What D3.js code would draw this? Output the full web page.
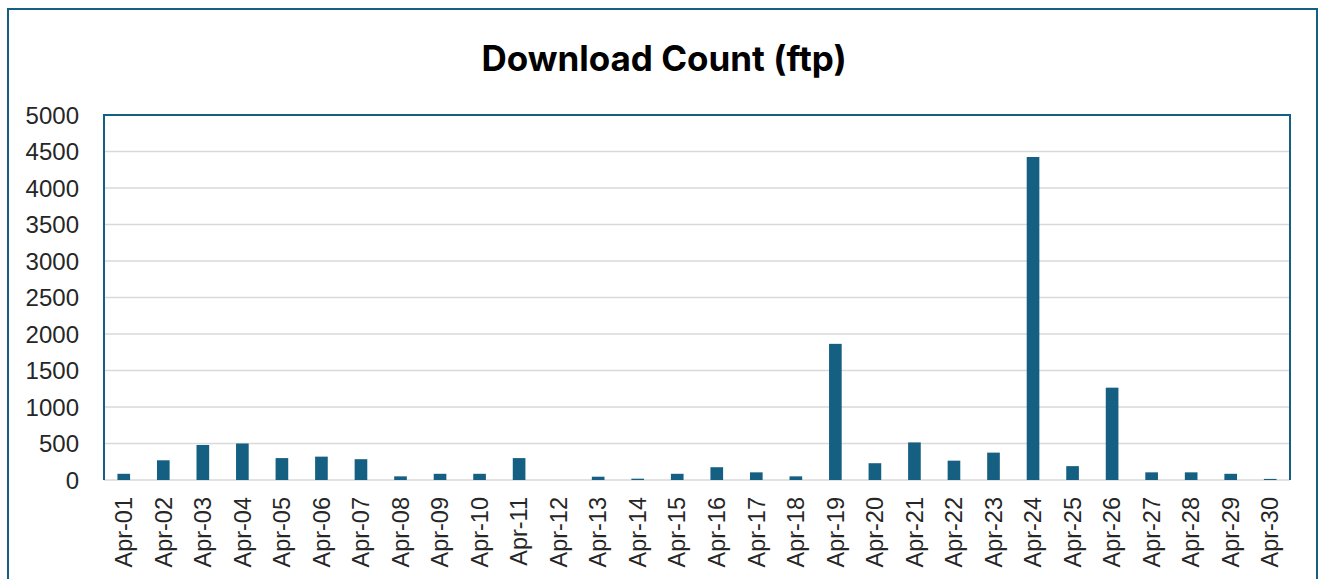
<!DOCTYPE html>
<html>
<head>
<meta charset="utf-8">
<script src="https://cdn.jsdelivr.net/npm/d3@7"></script>
<style>
    body { margin: 0; background: #fff; }
    svg { display: block; }
    .tick text { font-family: 'Liberation Sans', Arial, sans-serif; fill: #262626; }
    .title { font-family: Inter, 'Open Sans', sans-serif; font-weight: 700; }
</style>
</head>
<body>
<script>
const W = 1321, H = 579;
const margin = { top: 115, right: 31, bottom: 99, left: 104 },
    width = W - margin.left - margin.right,
    height = 480 - margin.top;

const teal = '#156082';

const days = ['Apr-01', 'Apr-02', 'Apr-03', 'Apr-04', 'Apr-05', 'Apr-06', 'Apr-07', 'Apr-08', 'Apr-09', 'Apr-10',
    'Apr-11', 'Apr-12', 'Apr-13', 'Apr-14', 'Apr-15', 'Apr-16', 'Apr-17', 'Apr-18', 'Apr-19', 'Apr-20',
    'Apr-21', 'Apr-22', 'Apr-23', 'Apr-24', 'Apr-25', 'Apr-26', 'Apr-27', 'Apr-28', 'Apr-29', 'Apr-30'];
const downloads = [85, 270, 480, 500, 300, 320, 285, 50, 85, 85,
    300, 0, 45, 18, 85, 175, 105, 50, 1865, 230,
    515, 265, 375, 4425, 190, 1265, 105, 105, 85, 15];
const yTicks = [0, 500, 1000, 1500, 2000, 2500, 3000, 3500, 4000, 4500, 5000];

const data = days.map((d, i) => { return { day: d, value: downloads[i] } });

const svg = d3.select('body').append('svg')
    .attr('width', W)
    .attr('height', H);

// outer chart border
svg.append('rect')
    .attr('x', 8).attr('y', 9)
    .attr('width', 1309).attr('height', H + 20)
    .attr('fill', 'none')
    .attr('stroke', teal)
    .attr('stroke-width', 2);

svg.append('text')
    .attr('class', 'title')
    .attr('x', 664).attr('y', 71)
    .attr('text-anchor', 'middle')
    .style('font-size', '35px')
    .style('fill', '#000')
    .text('Download Count (ftp)');

const g = svg.append('g')
    .attr('transform', 'translate(' + margin.left + ',' + margin.top + ')');

const xScale = d3.scaleBand()
    .domain(days)
    .range([0, width])
    .paddingInner(0.68)
    .paddingOuter(0.34);
const yScale = d3.scaleLinear()
    .domain([0, 5000])
    .range([height, 0]);

// gridlines
g.append('g')
    .attr('class', 'grid')
    .selectAll('line')
    .data(yTicks)
    .enter().append('line')
    .attr('x1', 0).attr('x2', width)
    .attr('y1', d => yScale(d)).attr('y2', d => yScale(d))
    .attr('stroke', '#d9d9d9')
    .attr('stroke-width', 1.5);

// y axis labels
const yAxis = g.append('g')
    .call(d3.axisLeft(yScale).tickValues(yTicks).tickFormat(d3.format('d')).tickSize(0).tickPadding(25));
yAxis.select('.domain').remove();
yAxis.selectAll('text').style('font-size', '24px').attr('dy', '0.35em');

// x axis labels
const xAxis = g.append('g')
    .attr('transform', 'translate(0,' + height + ')')
    .call(d3.axisBottom(xScale).tickSize(0));
xAxis.select('.domain').remove();
xAxis.selectAll('text')
    .style('font-size', '23.5px')
    .style('text-anchor', 'end')
    .attr('transform', 'rotate(-90)')
    .attr('x', -17)
    .attr('y', 0)
    .attr('dy', '0.35em');

// bars
g.selectAll('.bar')
    .data(data)
    .enter().append('rect')
    .attr('class', 'bar')
    .attr('x', d => xScale(d.day))
    .attr('y', d => yScale(d.value))
    .attr('width', xScale.bandwidth())
    .attr('height', d => height - yScale(d.value))
    .attr('fill', teal);

// plot area frame (left, top, right)
g.append('path')
    .attr('d', 'M0,' + height + 'V0H' + width + 'V' + height)
    .attr('fill', 'none')
    .attr('stroke', teal)
    .attr('stroke-width', 2);
</script>
</body>
</html>
